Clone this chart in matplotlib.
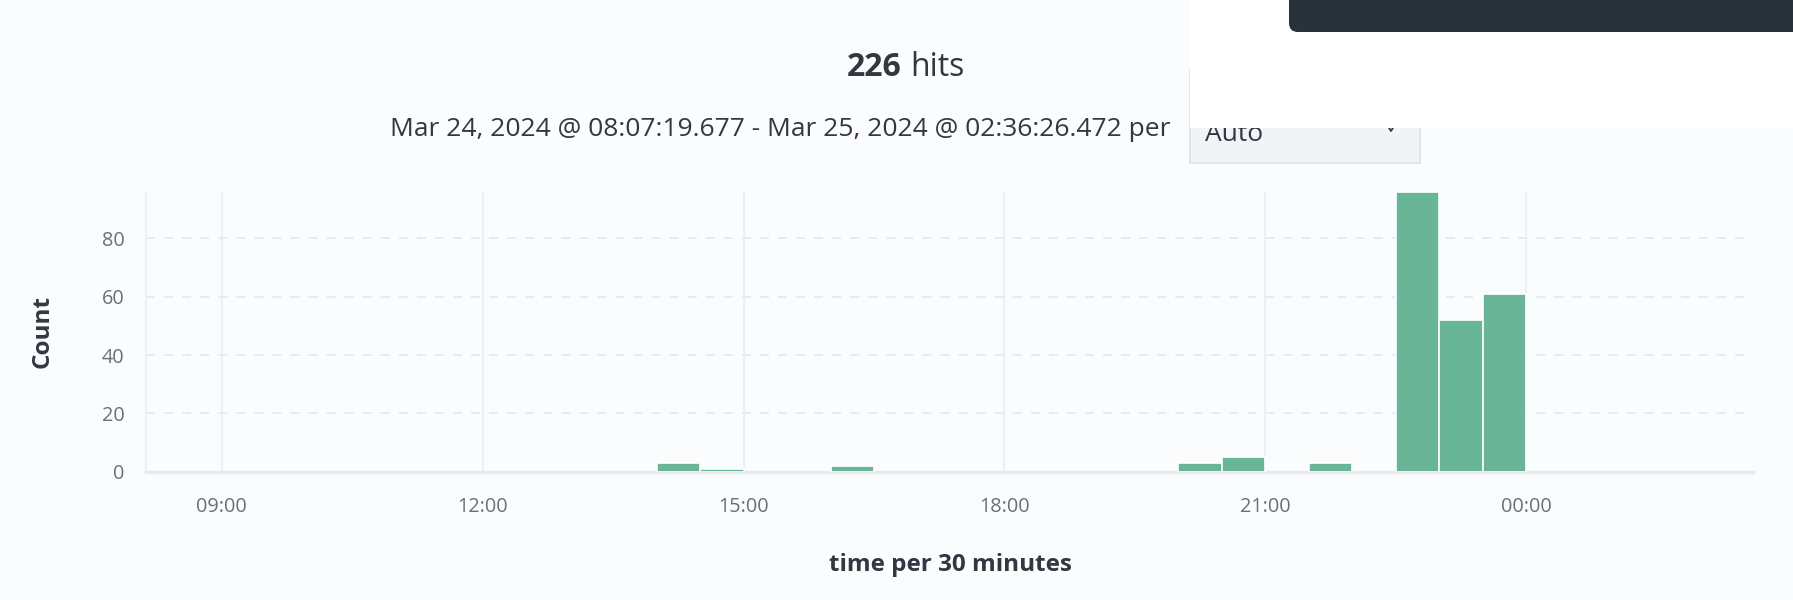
import matplotlib
matplotlib.use('Agg')
import matplotlib.pyplot as plt
import matplotlib.dates as mdates
from matplotlib.patches import Rectangle, FancyBboxPatch
from datetime import datetime

plt.rcParams['font.family'] = ['Open Sans', 'DejaVu Sans']

# histogram buckets (start of each 30 minute bucket) and hit counts
bucket_start = ['2024-03-24 14:00', '2024-03-24 14:30', '2024-03-24 16:00',
                '2024-03-24 20:00', '2024-03-24 20:30', '2024-03-24 21:30',
                '2024-03-24 22:30', '2024-03-24 23:00', '2024-03-24 23:30']
counts = [3, 1, 2, 3, 5, 3, 96, 52, 61]
range_start = '2024-03-24 08:07:19.677'
range_end = '2024-03-25 02:36:26.472'
y_ticks = [0, 20, 40, 60, 80]
total_hits = sum(counts)

bg = '#fbfcfd'
dark = '#343741'
grey = '#69707d'
bar_col = '#68b597'

W, H = 1793, 600
fig = plt.figure(figsize=(W / 100, H / 100), dpi=100, facecolor=bg)

# overlay in pixel coords for the page chrome and titles
ui = fig.add_axes([0, 0, 1, 1], zorder=0)
ui.set_xlim(0, W)
ui.set_ylim(H, 0)
ui.axis('off')

# dropdown box partly hidden by the white panel
ui.add_patch(Rectangle((1190, 70), 230, 93, facecolor='#f1f3f6', edgecolor='#dde1e6', lw=1.2, zorder=1))
ui.text(1205, 141, 'Auto', fontsize=19, color=dark, va='baseline', ha='left', zorder=1.5)
ui.plot([1386, 1391, 1396], [123, 131, 123], color=dark, lw=1.3, zorder=1.5)
ui.add_patch(Rectangle((1190, -5), 620, 133, facecolor='white', edgecolor='none', zorder=2))
ui.add_patch(FancyBboxPatch((1289, -30), 560, 62, boxstyle='round,pad=0,rounding_size=9',
                            facecolor='#283239', edgecolor='none', zorder=3))

# titles
ui.text(902, 68, str(total_hits), fontsize=23, fontweight='bold', color=dark, ha='right', va='center')
ui.text(910, 68, 'hits', fontsize=23, color=dark, ha='left', va='center')
ui.text(1171, 129, 'Mar 24, 2024 @ 08:07:19.677 - Mar 25, 2024 @ 02:36:26.472 per',
        fontsize=19, color=dark, ha='right', va='center')
ui.text(43, 332, 'Count', fontsize=17.5, fontweight='bold', color=dark, rotation=90, ha='center', va='center')
ui.text(950, 565, 'time per 30 minutes', fontsize=17.5, fontweight='bold', color=dark, ha='center', va='center')

# main chart
ax = fig.add_axes([145.5 / W, 1 - 471.7 / H, (1753 - 145.5) / W, (471.7 - 191.7) / H], zorder=1)
ax.set_facecolor('none')

x = [mdates.date2num(datetime.strptime(s, '%Y-%m-%d %H:%M')) for s in bucket_start]
width = mdates.date2num(datetime(2024, 3, 24, 0, 30)) - mdates.date2num(datetime(2024, 3, 24))
ax.bar(x, counts, width=width, align='edge', color=bar_col, edgecolor='white', linewidth=1.2, zorder=3)

x0 = mdates.date2num(datetime.strptime(range_start, '%Y-%m-%d %H:%M:%S.%f'))
x1 = mdates.date2num(datetime.strptime(range_end, '%Y-%m-%d %H:%M:%S.%f'))
ax.set_xlim(x0, x1)
ax.set_ylim(0, max(counts))

ax.xaxis.set_major_locator(mdates.HourLocator(byhour=range(0, 24, 3)))
ax.xaxis.set_major_formatter(mdates.DateFormatter('%H:%M'))
ax.set_yticks(y_ticks)
ax.tick_params(axis='both', length=0, labelsize=14.3, labelcolor=grey)
ax.tick_params(axis='x', pad=18)
ax.tick_params(axis='y', pad=15)

ax.grid(axis='x', color='#eceef2', lw=1.3, zorder=0)
ax.grid(axis='y', color='#e6e9ee', lw=1.3, linestyle=(0, (5, 5)), zorder=0)
for s in ['top', 'right']:
    ax.spines[s].set_visible(False)
ax.spines['left'].set_color('#eceef2')
ax.spines['left'].set_linewidth(1.3)
ax.spines['bottom'].set_color('#e6e9ee')
ax.spines['bottom'].set_linewidth(2.5)

fig.savefig('out.png', dpi=100, facecolor=bg)
